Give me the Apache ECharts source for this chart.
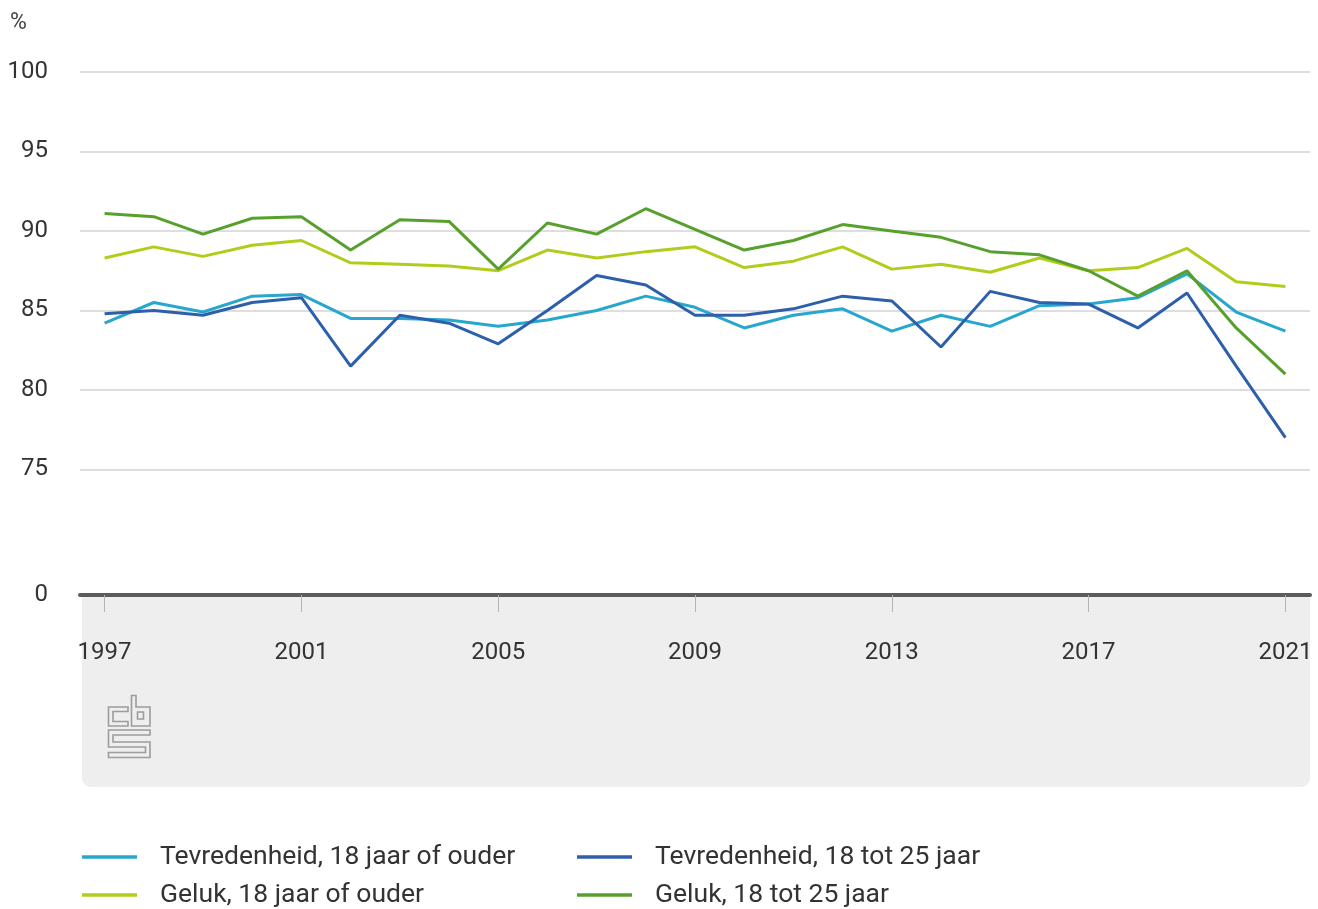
<!DOCTYPE html>
<html>
<head>
<meta charset="utf-8">
<script src="https://cdn.jsdelivr.net/npm/echarts@6/dist/echarts.min.js"></script>
<style>
  html, body { margin: 0; padding: 0; background: #ffffff; }
  #chart { width: 1318px; height: 909px; }
</style>
</head>
<body>
<div id="chart"></div>
<script>
// Tevredenheid en geluk, 1997-2021 (%)
const years = [1997, 1998, 1999, 2000, 2001, 2002, 2003, 2004, 2005, 2006, 2007, 2008, 2009,
               2010, 2011, 2012, 2013, 2014, 2015, 2016, 2017, 2018, 2019, 2020, 2021];

const tevredenheid18Plus = [84.2, 85.5, 84.9, 85.9, 86.0, 84.5, 84.5, 84.4, 84.0, 84.4, 85.0, 85.9, 85.2,
                            83.9, 84.7, 85.1, 83.7, 84.7, 84.0, 85.3, 85.4, 85.8, 87.3, 84.9, 83.7];
const tevredenheid18to25 = [84.8, 85.0, 84.7, 85.5, 85.8, 81.5, 84.7, 84.2, 82.9, 85.0, 87.2, 86.6, 84.7,
                            84.7, 85.1, 85.9, 85.6, 82.7, 86.2, 85.5, 85.4, 83.9, 86.1, 81.5, 77.0];
const geluk18Plus = [88.3, 89.0, 88.4, 89.1, 89.4, 88.0, 87.9, 87.8, 87.5, 88.8, 88.3, 88.7, 89.0,
                     87.7, 88.1, 89.0, 87.6, 87.9, 87.4, 88.3, 87.5, 87.7, 88.9, 86.8, 86.5];
const geluk18to25 = [91.1, 90.9, 89.8, 90.8, 90.9, 88.8, 90.7, 90.6, 87.6, 90.5, 89.8, 91.4, 90.1,
                     88.8, 89.4, 90.4, 90.0, 89.6, 88.7, 88.5, 87.5, 85.9, 87.5, 83.9, 81.0];

const seriesNames = [
  'Tevredenheid, 18 jaar of ouder',
  'Tevredenheid, 18 tot 25 jaar',
  'Geluk, 18 jaar of ouder',
  'Geluk, 18 tot 25 jaar'
];

const xTickYears = [1997, 2001, 2005, 2009, 2013, 2017, 2021];
const yGridValues = [75, 80, 85, 90, 95, 100];
// the value axis is broken below 75; its bottom edge is labelled 0
const yBottom = 67.1;
const yLabelValues = [yBottom].concat(yGridValues);

const colors = ['#27a7cf', '#2d5fab', '#b3cc1c', '#58a02e'];
const FONT = 'Roboto, "Noto Sans", sans-serif';

const valueSets = [tevredenheid18Plus, tevredenheid18to25, geluk18Plus, geluk18to25];

const series = valueSets.map((vals, i) => {
  const s = {
    name: seriesNames[i],
    type: 'line',
    data: years.map((y, k) => [y, vals[k]]),
    showSymbol: false,
    symbol: 'none',
    lineStyle: { width: 3, color: colors[i] },
    itemStyle: { color: colors[i] },
    z: 3,
    animation: false
  };
  if (i === 0) {
    s.markLine = {
      silent: true,
      symbol: ['none', 'none'],
      label: { show: false },
      lineStyle: { color: '#dedede', width: 2, type: 'solid' },
      emphasis: { disabled: true },
      z: 1,
      animation: false,
      data: yGridValues.map(v => ({ yAxis: v }))
    };
  }
  return s;
});

const chart = echarts.init(document.getElementById('chart'), null, { renderer: 'canvas' });

// legend in two columns, two rows: one legend block per entry
const legendSlots = [
  { left: 82, top: 843 },
  { left: 577, top: 843 },
  { left: 82, top: 881 },
  { left: 577, top: 881 }
];
const legends = seriesNames.map((name, i) => ({
  left: legendSlots[i].left,
  top: legendSlots[i].top,
  padding: 0,
  icon: 'rect',
  itemWidth: 55,
  itemHeight: 3.5,
  selectedMode: false,
  data: [name],
  textStyle: {
    fontFamily: FONT,
    fontSize: 26.5,
    lineHeight: 28,
    color: '#333333',
    padding: [0, 0, 0, 18]
  }
}));

// outline style for the logo shapes
const logoStyle = { fill: 'none', stroke: '#9c9c9c', lineWidth: 1.6 };

chart.setOption({
  backgroundColor: '#ffffff',
  animation: false,
  color: colors,
  grid: { left: 80, right: 8, top: 72, bottom: 314, containLabel: false },
  xAxis: {
    type: 'value',
    min: 1996.5,
    max: 2021.5,
    splitLine: { show: false },
    axisLine: { show: true, onZero: false, lineStyle: { color: '#5b5b5b', width: 4 } },
    axisTick: {
      show: true,
      customValues: xTickYears,
      length: 17,
      lineStyle: { color: '#b4b4b4', width: 1 }
    },
    axisLabel: {
      customValues: xTickYears,
      formatter: v => String(v),
      margin: 46,
      fontFamily: FONT,
      fontSize: 24,
      color: '#333333'
    }
  },
  yAxis: {
    type: 'value',
    min: yBottom,
    max: 100,
    splitLine: { show: false },
    axisLine: { show: false },
    axisTick: { show: false },
    axisLabel: {
      customValues: yLabelValues,
      formatter: v => (v < 75 ? '0' : String(v)),
      margin: 32,
      fontFamily: FONT,
      fontSize: 24,
      color: '#333333'
    }
  },
  legend: legends,
  graphic: {
    elements: [
      {
        type: 'rect',
        z: -1,
        silent: true,
        shape: { x: 82, y: 597, width: 1228, height: 190, r: [0, 0, 9, 9] },
        style: { fill: '#eeeeee' }
      },
      {
        type: 'text',
        x: 10,
        y: 12,
        silent: true,
        style: { text: '%', fontFamily: FONT, fontSize: 23, fill: '#444444' }
      },
      // cbs logo
      {
        type: 'polygon',
        silent: true,
        shape: { points: [[128, 707], [108.5, 707], [108.5, 726], [128, 726], [128, 721.5], [113, 721.5], [113, 711.5], [128, 711.5]] },
        style: logoStyle
      },
      {
        type: 'polygon',
        silent: true,
        shape: { points: [[131.5, 695.5], [136, 695.5], [136, 707], [150, 707], [150, 726], [131.5, 726]] },
        style: logoStyle
      },
      {
        type: 'rect',
        silent: true,
        shape: { x: 137.5, y: 712, width: 6, height: 7 },
        style: logoStyle
      },
      {
        type: 'polygon',
        silent: true,
        shape: { points: [[108.5, 730], [150, 730], [150, 735], [113, 735], [113, 742], [150, 742], [150, 757.5],
                          [108.5, 757.5], [108.5, 752.5], [145.5, 752.5], [145.5, 747], [108.5, 747]] },
        style: logoStyle
      }
    ]
  },
  series: series
});
</script>
</body>
</html>
